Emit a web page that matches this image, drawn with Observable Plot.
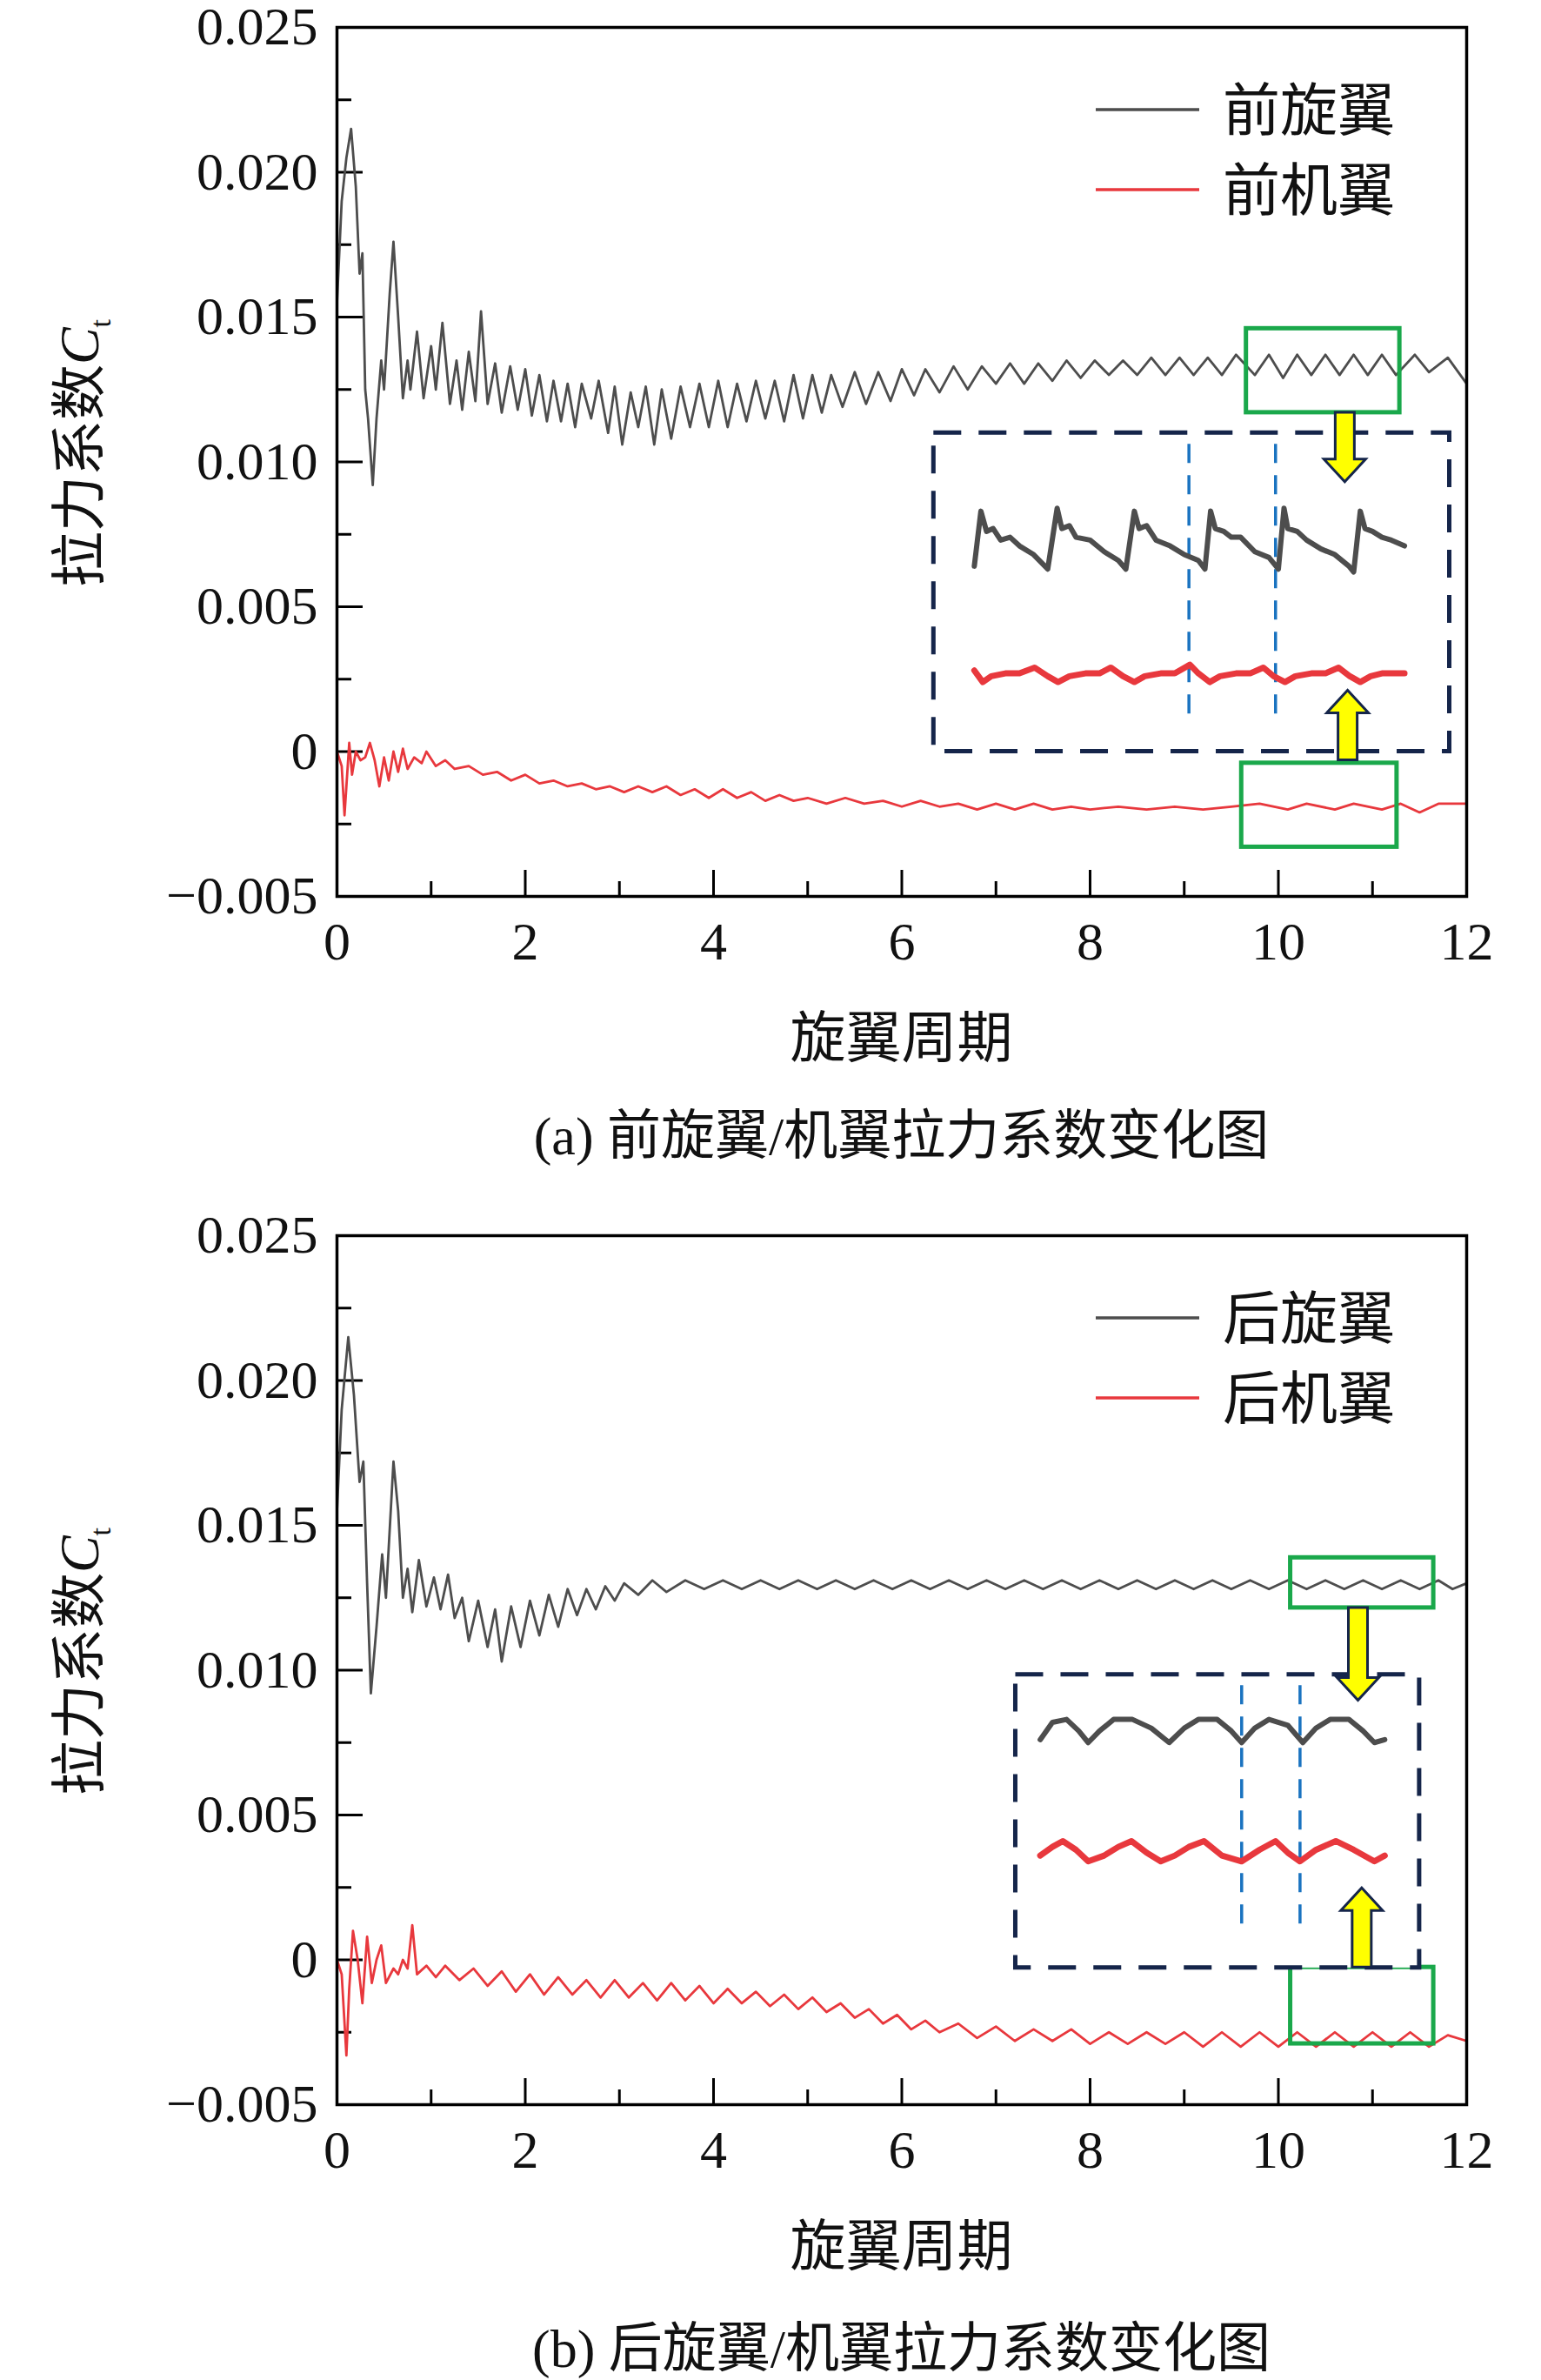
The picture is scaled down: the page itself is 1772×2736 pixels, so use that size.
<!DOCTYPE html>
<html><head><meta charset="utf-8">
<script src="https://cdn.jsdelivr.net/npm/d3@7"></script>
<script src="https://cdn.jsdelivr.net/npm/@observablehq/plot@0.6"></script>
<style>
body{margin:0;background:#fff;width:1772px;height:2736px;position:relative;font-family:"Liberation Serif","Noto Sans CJK SC",serif}
.lbl{position:absolute;color:#111;white-space:nowrap}
svg text{font-family:"Liberation Serif",serif}
</style></head><body>
<div id="root"></div>
<script>
// ---------- data ----------
const xTicks=[0,2,4,6,8,10,12];
const xMinor=[1,3,5,7,9,11];
const yTicks=[-0.005,0,0.005,0.010,0.015,0.020,0.025];
const yMinor=[-0.0025,0.0025,0.0075,0.0125,0.0175,0.0225];

const frontRotor=[[0,0.0155],[0.05,0.019],[0.1,0.0205],[0.15,0.0215],[0.2,0.0195],[0.24,0.0165],[0.27,0.0172],[0.3,0.0125],[0.33,0.0115],[0.38,0.0092],[0.42,0.0115],[0.47,0.0135],[0.5,0.0125],[0.56,0.0158],[0.6,0.0176],[0.65,0.015],[0.7,0.0122],[0.75,0.0135],[0.78,0.0125],[0.85,0.0145],[0.92,0.0122],[1.0,0.014],[1.05,0.0125],[1.12,0.0148],[1.2,0.012],[1.27,0.0135],[1.33,0.0118],[1.4,0.0138],[1.47,0.0121],[1.53,0.0152],[1.6,0.012],[1.68,0.0134],[1.75,0.0117],[1.84,0.0133],[1.92,0.0118],[2.0,0.0132],[2.07,0.0116],[2.15,0.013],[2.23,0.0114],[2.3,0.0128],[2.38,0.0114],[2.45,0.0127],[2.53,0.0112],[2.6,0.0127],[2.7,0.0115],[2.78,0.0128],[2.88,0.011],[2.95,0.0126],[3.03,0.0106],[3.12,0.0124],[3.2,0.0112],[3.28,0.0126],[3.37,0.0106],[3.45,0.0125],[3.55,0.0108],[3.65,0.0126],[3.75,0.0112],[3.85,0.0127],[3.95,0.0112],[4.05,0.0128],[4.15,0.0112],[4.25,0.0127],[4.35,0.0114],[4.45,0.0128],[4.55,0.0115],[4.65,0.0128],[4.75,0.0114],[4.85,0.013],[4.95,0.0115],[5.05,0.013],[5.15,0.0117],[5.25,0.013],[5.37,0.0119],[5.5,0.0131],[5.62,0.012],[5.75,0.0131],[5.88,0.0121],[6.0,0.0132],[6.13,0.0123],[6.25,0.0132],[6.4,0.0124],[6.55,0.0133],[6.7,0.0125],[6.85,0.0133],[7.0,0.0127],[7.15,0.0134],[7.3,0.0127],[7.45,0.0134],[7.6,0.0128],[7.75,0.0135],[7.9,0.0129],[8.05,0.0135],[8.2,0.013],[8.35,0.0135],[8.5,0.013],[8.65,0.0136],[8.8,0.013],[8.95,0.0136],[9.1,0.013],[9.25,0.0136],[9.4,0.013],[9.55,0.0137],[9.75,0.013],[9.9,0.0137],[10.05,0.0129],[10.2,0.0137],[10.35,0.013],[10.5,0.0137],[10.65,0.013],[10.8,0.0137],[10.95,0.013],[11.1,0.0137],[11.25,0.013],[11.45,0.0137],[11.6,0.0131],[11.8,0.0136],[12,0.0127]];
const frontWing=[[0,0],[0.05,-0.0005],[0.08,-0.0022],[0.1,-0.0012],[0.13,0.0003],[0.16,-0.0008],[0.2,0],[0.25,-0.0003],[0.3,-0.0002],[0.35,0.0003],[0.4,-0.0003],[0.45,-0.0012],[0.5,-0.0002],[0.55,-0.001],[0.6,0],[0.65,-0.0007],[0.7,0.0001],[0.75,-0.0006],[0.82,-0.0002],[0.9,-0.0004],[0.95,0],[1.05,-0.0005],[1.15,-0.0003],[1.25,-0.0006],[1.4,-0.0005],[1.55,-0.0008],[1.7,-0.0007],[1.85,-0.001],[2.0,-0.0008],[2.15,-0.0011],[2.3,-0.001],[2.45,-0.0012],[2.6,-0.0011],[2.75,-0.0013],[2.9,-0.0012],[3.05,-0.0014],[3.2,-0.0012],[3.35,-0.0014],[3.5,-0.0012],[3.65,-0.0015],[3.8,-0.0013],[3.95,-0.0016],[4.1,-0.0013],[4.25,-0.0016],[4.4,-0.0014],[4.55,-0.0017],[4.7,-0.0015],[4.85,-0.0017],[5.0,-0.0016],[5.2,-0.0018],[5.4,-0.0016],[5.6,-0.0018],[5.8,-0.0017],[6.0,-0.0019],[6.2,-0.0017],[6.4,-0.0019],[6.6,-0.0018],[6.8,-0.002],[7.0,-0.0018],[7.2,-0.002],[7.4,-0.0018],[7.6,-0.002],[7.8,-0.0019],[8.0,-0.002],[8.3,-0.0019],[8.6,-0.002],[8.9,-0.0019],[9.2,-0.002],[9.5,-0.0019],[9.8,-0.0018],[10.1,-0.002],[10.3,-0.0018],[10.6,-0.002],[10.8,-0.0018],[11.1,-0.002],[11.3,-0.0018],[11.5,-0.0021],[11.7,-0.0018],[12,-0.0018]];
const frontRotorZoom=[[6.77,0.0064],[6.84,0.0083],[6.9,0.0076],[6.97,0.0077],[7.05,0.0073],[7.15,0.0074],[7.25,0.0071],[7.4,0.0068],[7.55,0.0063],[7.65,0.0084],[7.7,0.0077],[7.78,0.0078],[7.85,0.0074],[8.0,0.0073],[8.15,0.0069],[8.3,0.0066],[8.38,0.0063],[8.47,0.0083],[8.52,0.0077],[8.6,0.0078],[8.7,0.0073],[8.85,0.0071],[9.0,0.0068],[9.15,0.0066],[9.22,0.0063],[9.28,0.0083],[9.33,0.0077],[9.42,0.0076],[9.5,0.0074],[9.6,0.0074],[9.75,0.0069],[9.9,0.0067],[10.0,0.0063],[10.06,0.0084],[10.1,0.0077],[10.2,0.0076],[10.3,0.0073],[10.45,0.007],[10.6,0.0068],[10.75,0.0064],[10.8,0.0062],[10.87,0.0083],[10.92,0.0077],[11.0,0.0076],[11.1,0.0074],[11.2,0.0073],[11.34,0.0071]];
const frontWingZoom=[[6.77,0.0028],[6.86,0.0024],[6.95,0.0026],[7.1,0.0027],[7.25,0.0027],[7.41,0.0029],[7.55,0.0026],[7.66,0.0024],[7.78,0.0026],[7.95,0.0027],[8.1,0.0027],[8.22,0.0029],[8.35,0.0026],[8.47,0.0024],[8.58,0.0026],[8.75,0.0027],[8.9,0.0027],[9.06,0.003],[9.15,0.0027],[9.27,0.0024],[9.38,0.0026],[9.55,0.0027],[9.7,0.0027],[9.84,0.0029],[9.95,0.0026],[10.07,0.0024],[10.18,0.0026],[10.35,0.0027],[10.5,0.0027],[10.64,0.0029],[10.76,0.0026],[10.87,0.0024],[10.98,0.0026],[11.1,0.0027],[11.34,0.0027]];

const rearRotor=[[0,0.0155],[0.05,0.019],[0.12,0.0215],[0.18,0.0195],[0.24,0.0165],[0.28,0.0172],[0.32,0.013],[0.36,0.0092],[0.42,0.0115],[0.48,0.014],[0.52,0.0125],[0.6,0.0172],[0.65,0.0155],[0.7,0.0125],[0.75,0.0135],[0.8,0.012],[0.87,0.0138],[0.95,0.0122],[1.03,0.0132],[1.1,0.0121],[1.18,0.0133],[1.25,0.0118],[1.33,0.0125],[1.4,0.011],[1.5,0.0124],[1.6,0.0108],[1.68,0.0121],[1.75,0.0103],[1.85,0.0122],[1.95,0.0108],[2.05,0.0124],[2.15,0.0112],[2.25,0.0126],[2.35,0.0115],[2.45,0.0128],[2.55,0.0119],[2.65,0.0128],[2.75,0.0121],[2.85,0.0129],[2.95,0.0124],[3.05,0.013],[3.2,0.0126],[3.35,0.0131],[3.5,0.0127],[3.7,0.0131],[3.9,0.0128],[4.1,0.0131],[4.3,0.0128],[4.5,0.0131],[4.7,0.0128],[4.9,0.0131],[5.1,0.0128],[5.3,0.0131],[5.5,0.0128],[5.7,0.0131],[5.9,0.0128],[6.1,0.0131],[6.3,0.0128],[6.5,0.0131],[6.7,0.0128],[6.9,0.0131],[7.1,0.0128],[7.3,0.0131],[7.5,0.0128],[7.7,0.0131],[7.9,0.0128],[8.1,0.0131],[8.3,0.0128],[8.5,0.0131],[8.7,0.0128],[8.9,0.0131],[9.1,0.0128],[9.3,0.0131],[9.5,0.0128],[9.7,0.0131],[9.9,0.0128],[10.1,0.0131],[10.3,0.0128],[10.5,0.0131],[10.7,0.0128],[10.9,0.0131],[11.1,0.0128],[11.3,0.0131],[11.5,0.0128],[11.7,0.0131],[11.85,0.0128],[12,0.013]];
const rearWing=[[0,0],[0.05,-0.0005],[0.1,-0.0033],[0.13,-0.001],[0.17,0.001],[0.22,0],[0.27,-0.0015],[0.32,0.0008],[0.37,-0.0008],[0.42,0],[0.47,0.0005],[0.52,-0.0008],[0.6,-0.0003],[0.65,-0.0005],[0.7,0],[0.75,-0.0003],[0.8,0.0012],[0.85,-0.0005],[0.95,-0.0002],[1.05,-0.0006],[1.15,-0.0002],[1.3,-0.0007],[1.45,-0.0003],[1.6,-0.0009],[1.75,-0.0004],[1.9,-0.0011],[2.05,-0.0005],[2.2,-0.0012],[2.35,-0.0006],[2.5,-0.0012],[2.65,-0.0007],[2.8,-0.0013],[2.95,-0.0007],[3.1,-0.0013],[3.25,-0.0008],[3.4,-0.0014],[3.55,-0.0008],[3.7,-0.0014],[3.85,-0.0009],[4.0,-0.0015],[4.15,-0.001],[4.3,-0.0015],[4.45,-0.0011],[4.6,-0.0016],[4.75,-0.0012],[4.9,-0.0017],[5.05,-0.0013],[5.2,-0.0018],[5.35,-0.0015],[5.5,-0.002],[5.65,-0.0017],[5.8,-0.0022],[5.95,-0.0019],[6.1,-0.0024],[6.25,-0.0021],[6.4,-0.0025],[6.6,-0.0022],[6.8,-0.0027],[7.0,-0.0023],[7.2,-0.0028],[7.4,-0.0024],[7.6,-0.0028],[7.8,-0.0024],[8.0,-0.0029],[8.2,-0.0025],[8.4,-0.0029],[8.6,-0.0025],[8.8,-0.0029],[9.0,-0.0025],[9.2,-0.003],[9.4,-0.0025],[9.6,-0.003],[9.8,-0.0025],[10.0,-0.003],[10.2,-0.0025],[10.4,-0.003],[10.6,-0.0025],[10.8,-0.003],[11.0,-0.0025],[11.2,-0.003],[11.4,-0.0025],[11.6,-0.003],[11.8,-0.0026],[12,-0.0028]];
const rearRotorZoom=[[7.47,0.0076],[7.6,0.0082],[7.75,0.0083],[7.88,0.0079],[7.98,0.0075],[8.1,0.0079],[8.25,0.0083],[8.45,0.0083],[8.65,0.008],[8.84,0.0075],[9.0,0.008],[9.15,0.0083],[9.35,0.0083],[9.5,0.0079],[9.61,0.0075],[9.75,0.008],[9.9,0.0083],[10.1,0.0081],[10.26,0.0075],[10.4,0.008],[10.55,0.0083],[10.75,0.0083],[10.9,0.0079],[11.02,0.0075],[11.13,0.0076]];
const rearWingZoom=[[7.47,0.0036],[7.6,0.0039],[7.71,0.0041],[7.85,0.0038],[7.98,0.0034],[8.15,0.0036],[8.3,0.0039],[8.44,0.0041],[8.6,0.0037],[8.75,0.0034],[8.9,0.0036],[9.05,0.0039],[9.21,0.0041],[9.4,0.0036],[9.61,0.0034],[9.8,0.0038],[9.97,0.0041],[10.1,0.0037],[10.23,0.0034],[10.4,0.0038],[10.61,0.0041],[10.8,0.0038],[11.02,0.0034],[11.13,0.0036]];

const panels=[
 {top:0,rotor:frontRotor,wing:frontWing,rz:frontRotorZoom,wz:frontWingZoom,names:["前旋翼","前机翼"],caption:"(a) 前旋翼/机翼拉力系数变化图",capY:1300,
  green:[[9.66,11.29,0.0117,0.0146],[9.61,11.26,-0.0033,-0.0004]],dash:[6.34,11.82,0.0,0.011],blue:[[9.05,0.0013,0.0108],[9.97,0.0013,0.0108]],
  arrows:[[10.71,0.0117,0.0093],[10.74,-0.0003,0.0021]]},
 {top:1389,rotor:rearRotor,wing:rearWing,rz:rearRotorZoom,wz:rearWingZoom,names:["后旋翼","后机翼"],caption:"(b) 后旋翼/机翼拉力系数变化图",capY:1305,
  green:[[10.13,11.65,0.01215,0.01388],[10.13,11.65,-0.0029,-0.00026]],dash:[7.21,11.5,-0.00028,0.00984],blue:[[9.61,0.00124,0.00974],[10.23,0.00124,0.00974]],
  arrows:[[10.85,0.01215,0.00895],[10.89,-0.00026,0.00247]]}
];

const W=1772, ML=387, MR=86, MT=31, FH=999, H=1140, FW=W-ML-MR;
const fmt=d=>Math.abs(d)<1e-9?"0":(d<0?"\u2212"+Math.abs(d).toFixed(3):d.toFixed(3));
const root=document.getElementById("root");
const BLK="#4d4d4d", RED="#e8383d";

for(const p of panels){
  const div=document.createElement("div");
  div.style.cssText=`position:absolute;left:0;top:${p.top}px;width:${W}px;height:${H}px`;
  const plot=Plot.plot({
    width:W,height:H,marginLeft:ML,marginRight:MR,marginTop:MT,marginBottom:H-MT-FH,
    style:{fontFamily:"Liberation Serif",fontSize:"62px",color:"#111",background:"transparent",overflow:"visible"},
    x:{domain:[0,12]},y:{domain:[-0.005,0.025]},
    marks:[
      Plot.axisX({ticks:xTicks,tickSize:0,tickPadding:28,tickFormat:d=>String(d),label:null,fontSize:62}),
      Plot.axisY({ticks:yTicks,tickSize:0,tickPadding:22,tickFormat:fmt,label:null,fontSize:62}),
      Plot.tickX(xTicks,{x:d=>d,insetTop:FH-30,stroke:"#000",strokeWidth:3}),
      Plot.tickX(xMinor,{x:d=>d,insetTop:FH-17,stroke:"#000",strokeWidth:3}),
      Plot.tickY(yTicks,{y:d=>d,insetRight:FW-30,stroke:"#000",strokeWidth:3}),
      Plot.tickY(yMinor,{y:d=>d,insetRight:FW-17,stroke:"#000",strokeWidth:3}),
      Plot.line(p.rotor,{x:d=>d[0],y:d=>d[1],stroke:BLK,strokeWidth:2.8}),
      Plot.line(p.wing,{x:d=>d[0],y:d=>d[1],stroke:RED,strokeWidth:2.8}),
      Plot.rect(p.green,{x1:d=>d[0],x2:d=>d[1],y1:d=>d[2],y2:d=>d[3],fill:"none",stroke:"#1aa84b",strokeWidth:5}),
      Plot.rect([p.dash],{x1:d=>d[0],x2:d=>d[1],y1:d=>d[2],y2:d=>d[3],fill:"white",stroke:"#15254a",strokeWidth:5,strokeDasharray:"32,20"}),
      Plot.ruleX(p.blue,{x:d=>d[0],y1:d=>d[1],y2:d=>d[2],stroke:"#1a73c0",strokeWidth:3.5,strokeDasharray:"22,14"}),
      Plot.line(p.rz,{x:d=>d[0],y:d=>d[1],stroke:BLK,strokeWidth:6}),
      Plot.line(p.wz,{x:d=>d[0],y:d=>d[1],stroke:RED,strokeWidth:7}),
      Plot.frame({stroke:"#000",strokeWidth:3.5})
    ]
  });
  div.appendChild(plot);
  root.appendChild(div);
  const sx=plot.scale("x"), sy=plot.scale("y");
  const svg=d3.select(plot);
  for(const a of p.arrows){
    const cx=sx.apply(a[0]), y0=sy.apply(a[1]), y1=sy.apply(a[2]);
    const dir=Math.sign(y1-y0), hl=26*dir, sw=11, hw=24;
    const pts=[[cx-sw,y0],[cx+sw,y0],[cx+sw,y1-hl],[cx+hw,y1-hl],[cx,y1],[cx-hw,y1-hl],[cx-sw,y1-hl]];
    svg.append("polygon").attr("points",pts.map(q=>q.join(",")).join(" "))
      .attr("fill","#ffff00").attr("stroke","#15254a").attr("stroke-width",3);
  }
  const lg=svg.append("g").attr("text-anchor","start");
  p.names.forEach((n,i)=>{
    const y=MT+95+i*92;
    lg.append("line").attr("x1",1260).attr("x2",1379).attr("y1",y).attr("y2",y).attr("stroke",i?RED:BLK).attr("stroke-width",3.5);
    lg.append("text").attr("x",1406).attr("y",y).attr("dy","0.36em").attr("text-anchor","start").style("font-family","'Noto Sans CJK SC'").attr("font-size",66).attr("fill","#111").text(n);
  });
  const yl=document.createElement("div");
  yl.className="lbl";
  yl.style.cssText+=`left:87px;top:${p.top+MT+FH/2-10}px;font-size:64px;transform:translate(-50%,-50%) rotate(-90deg);font-family:'Noto Sans CJK SC'`;
  yl.innerHTML=`拉力系数<i style="font-family:'Liberation Serif'">C</i><sub style="font-family:'Liberation Serif';font-size:34px">t</sub>`;
  root.appendChild(yl);
  const xl=document.createElement("div");
  xl.className="lbl";
  xl.style.cssText+=`left:${ML+FW/2}px;top:${p.top+1187}px;font-size:64px;transform:translate(-50%,-50%);font-family:'Noto Sans CJK SC'`;
  xl.textContent="旋翼周期";
  root.appendChild(xl);
  const cap=document.createElement("div");
  cap.className="lbl";
  cap.style.cssText+=`left:${ML+FW/2}px;top:${p.top+p.capY}px;font-size:62px;transform:translate(-50%,-50%);font-family:'Liberation Serif','Noto Sans CJK SC'`;
  cap.textContent=p.caption;
  root.appendChild(cap);
}
</script></body></html>
